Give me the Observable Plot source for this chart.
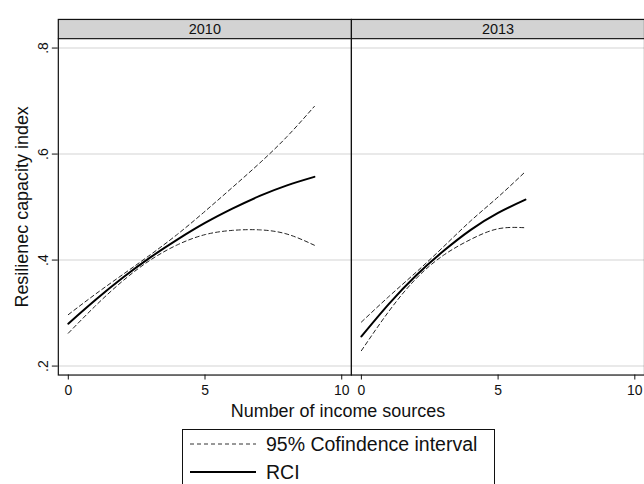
<!DOCTYPE html>
<html>
<head>
<meta charset="utf-8">
<script src="https://cdn.jsdelivr.net/npm/d3@7"></script>
<script src="https://cdn.jsdelivr.net/npm/@observablehq/plot@0.6"></script>
<style>
  body { margin: 0; background: #fff; overflow: hidden; font-family: "Liberation Sans", Arial, sans-serif; }
  #chart { position: relative; width: 644px; height: 484px; overflow: hidden; }
  .legend { position: absolute; left: 182px; top: 429px; width: 313px; height: 70px;
            border: 1px solid #111; box-sizing: border-box; background: #fff; }
  .legend .row { position: absolute; left: 7px; display: flex; align-items: center; font-size: 19.5px; color: #111; }
  .legend .row svg { margin-right: 10px; }
</style>
</head>
<body>
<div id="chart"></div>
<script>
// Survey waves shown as panels
const years = ["2010", "2013"];

// Quadratic fit of the resilience capacity index (RCI) with 95% band, wave 2010
const x2010  = [0, 1, 2, 3, 4, 5, 6, 7, 8, 9];
const fit2010 = [0.280, 0.325, 0.367, 0.405, 0.439, 0.470, 0.497, 0.521, 0.541, 0.557];
const lo2010  = [0.262, 0.314, 0.361, 0.400, 0.429, 0.448, 0.456, 0.457, 0.449, 0.428];
const hi2010  = [0.297, 0.336, 0.373, 0.410, 0.449, 0.492, 0.537, 0.583, 0.633, 0.690];

// Same fit for wave 2013
const x2013  = [0, 1, 2, 3, 4, 5, 6];
const fit2013 = [0.256, 0.317, 0.371, 0.417, 0.457, 0.489, 0.514];
const lo2013  = [0.229, 0.303, 0.365, 0.409, 0.439, 0.459, 0.461];
const hi2013  = [0.283, 0.331, 0.377, 0.425, 0.474, 0.519, 0.567];

// Axis ticks
const xTicks = [0, 5, 10];
const yTicks = [0.2, 0.4, 0.6, 0.8];

// Scale extents; the band between yStripLow and yStripHigh holds the panel strip
const xDomain = [-0.365, 10.354];
const yStripLow = 0.8177;
const yStripHigh = 0.854;
const yDomain = [0.1831, yStripHigh];

const rows = [
  ...x2010.map((x, i) => ({year: "2010", x, fit: fit2010[i], lo: lo2010[i], hi: hi2010[i]})),
  ...x2013.map((x, i) => ({year: "2013", x, fit: fit2013[i], lo: lo2013[i], hi: hi2013[i]}))
];

const font = "Liberation Sans, Arial, sans-serif";
const dash = "4,3";
const fmtY = d => String(d).replace(/^0/, "");

const chart = Plot.plot({
  width: 646,
  height: 428,
  marginLeft: 58,
  marginRight: 0,
  marginTop: 19,
  marginBottom: 52.3,
  style: {fontFamily: font, fontSize: "14px", color: "#111", background: "#fff", overflow: "visible"},
  facet: {data: rows, x: "year"},
  fx: {axis: null, padding: 0, domain: years},
  x: {domain: xDomain, ticks: xTicks, tickSize: 5, tickPadding: 5, label: null, tickFormat: d => String(d)},
  y: {domain: yDomain, ticks: yTicks, tickSize: 6, tickPadding: 4, tickRotate: -90, label: null, tickFormat: fmtY},
  marks: [
    Plot.ruleY(yTicks, {stroke: "#e2e2e2", strokeWidth: 1.6}),
    Plot.line(rows, {x: "x", y: "hi", stroke: "#222", strokeWidth: 1, strokeDasharray: dash, curve: "natural"}),
    Plot.line(rows, {x: "x", y: "lo", stroke: "#222", strokeWidth: 1, strokeDasharray: dash, curve: "natural"}),
    Plot.line(rows, {x: "x", y: "fit", stroke: "#000", strokeWidth: 2, curve: "natural"}),
    Plot.rect([0], {x1: xDomain[0], x2: xDomain[1], y1: yStripLow, y2: yStripHigh, fill: "#d3d3d3"}),
    Plot.ruleY([yStripLow], {stroke: "#222", strokeWidth: 1.2}),
    Plot.text(rows, Plot.selectFirst({z: "year", text: "year", frameAnchor: "top", lineAnchor: "middle",
      dy: 10, fontSize: 14.5, fill: "#111"})),
    Plot.frame({stroke: "#111", strokeWidth: 1.2})
  ]
});

const svg = d3.select(chart);

// Enlarge the axis tick labels
const tickLabels = new Set([...xTicks.map(String), ...yTicks.map(fmtY)]);
svg.selectAll("text")
  .filter(function () { return tickLabels.has(this.textContent.trim()); })
  .style("font-size", "14px")
  .style("fill", "#111");

// Axis titles
svg.append("text")
  .attr("transform", "translate(21.5,207.5) rotate(-90)")
  .attr("text-anchor", "middle")
  .attr("dy", "0.35em")
  .attr("font-family", font)
  .attr("font-size", 18)
  .attr("fill", "#111")
  .text("Resilienec capacity index");

svg.append("text")
  .attr("x", 339)
  .attr("y", 418)
  .attr("text-anchor", "middle")
  .attr("font-family", font)
  .attr("font-size", 18)
  .attr("fill", "#111")
  .text("Number of income sources");

const root = document.getElementById("chart");
root.appendChild(chart);

// Legend box below the plot
const legend = d3.select(root).append("div").attr("class", "legend");
const entries = [
  {label: "95% Cofindence interval", dashed: true, top: 2},
  {label: "RCI", dashed: false, top: 30}
];
for (const e of entries) {
  const row = legend.append("div").attr("class", "row").style("top", e.top + "px");
  const s = row.append("svg").attr("width", 66).attr("height", 24);
  s.append("line")
    .attr("x1", 0).attr("x2", 66).attr("y1", 12).attr("y2", 12)
    .attr("stroke", e.dashed ? "#333" : "#000")
    .attr("stroke-width", e.dashed ? 1 : 2)
    .attr("stroke-dasharray", e.dashed ? dash : null);
  row.append("span").text(e.label);
}
</script>
</body>
</html>
